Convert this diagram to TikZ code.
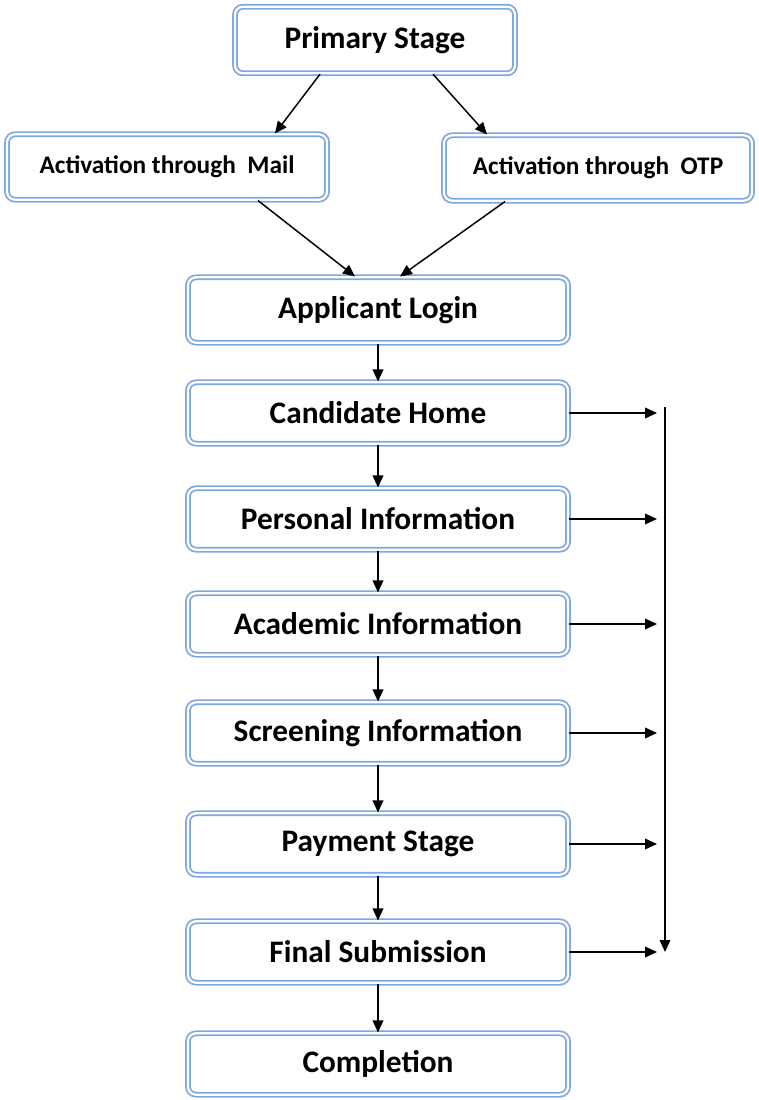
\documentclass[tikz,border=0pt]{standalone}
\usepackage{fontspec}
\setmainfont{Carlito}
\usepackage{xcolor}
\usepackage{tikz}
\usetikzlibrary{arrows.meta,positioning,calc}
\definecolor{boxblue}{RGB}{128,166,222}

\begin{document}
\begin{tikzpicture}[x=0.75pt, y=-0.75pt,
    block/.style={rectangle, rounded corners=6pt, draw=boxblue, double=white, double distance=1.7pt, line width=1.3pt, fill=white, minimum width=285pt, minimum height=46pt, font=\fontsize{23.5}{26}\selectfont\bfseries},
    actblock/.style={block, minimum height=49pt, font=\fontsize{19}{22}\selectfont\bfseries},
    arrow/.style={-{Triangle[length=9pt,width=8pt]}, line width=1.1pt}]
    \useasboundingbox (0,0) rectangle (758,1100);

    \node[block, minimum width=210pt, minimum height=50pt] (primary) at (375,40) {Primary Stage};
    \node[actblock, minimum width=240pt] (mail) at (167,167) {Activation through\ \ Mail};
    \node[actblock, minimum width=231pt] (otp) at (598,168) {Activation through\ \ OTP};

    \node[block, minimum height=49pt] (login) at (378,310) {Applicant Login};
    \node[block] (home) at (378,413) {Candidate Home};
    \node[block] (personal) at (378,519) {Personal Information};
    \node[block] (academic) at (378,624) {Academic Information};
    \node[block] (screening) at (378,733) {Screening Information};
    \node[block] (payment) at (378,844) {Payment Stage};
    \node[block] (final) at (378,952) {Final Submission};
    \node[block] (completion) at (378,1064) {Completion};

    \coordinate (bustop) at (665,407);
    \coordinate (busbot) at (665,952);

    \draw[arrow] ($(primary.south)+(-55,0)$) -- ($(mail.north)+(108,0)$);
    \draw[arrow] ($(primary.south)+(58,0)$) -- ($(otp.north)+(-111,0)$);
    \draw[arrow] ($(mail.south)+(91,0)$) -- ($(login.north)+(-23,0)$);
    \draw[arrow] ($(otp.south)+(-93,0)$) -- ($(login.north)+(22,0)$);

    \draw[arrow] (login) -- (home);
    \draw[arrow] (home) -- (personal);
    \draw[arrow] (personal) -- (academic);
    \draw[arrow] (academic) -- (screening);
    \draw[arrow] (screening) -- (payment);
    \draw[arrow] (payment) -- (final);
    \draw[arrow] (final) -- (completion);

    \draw[arrow] (bustop) -- (busbot);
    \foreach \n in {home,personal,academic,screening,payment,final}
        \draw[arrow] (\n.east) -- ($(\n.east -| bustop)+(-8,0)$);

\end{tikzpicture}
\end{document}
